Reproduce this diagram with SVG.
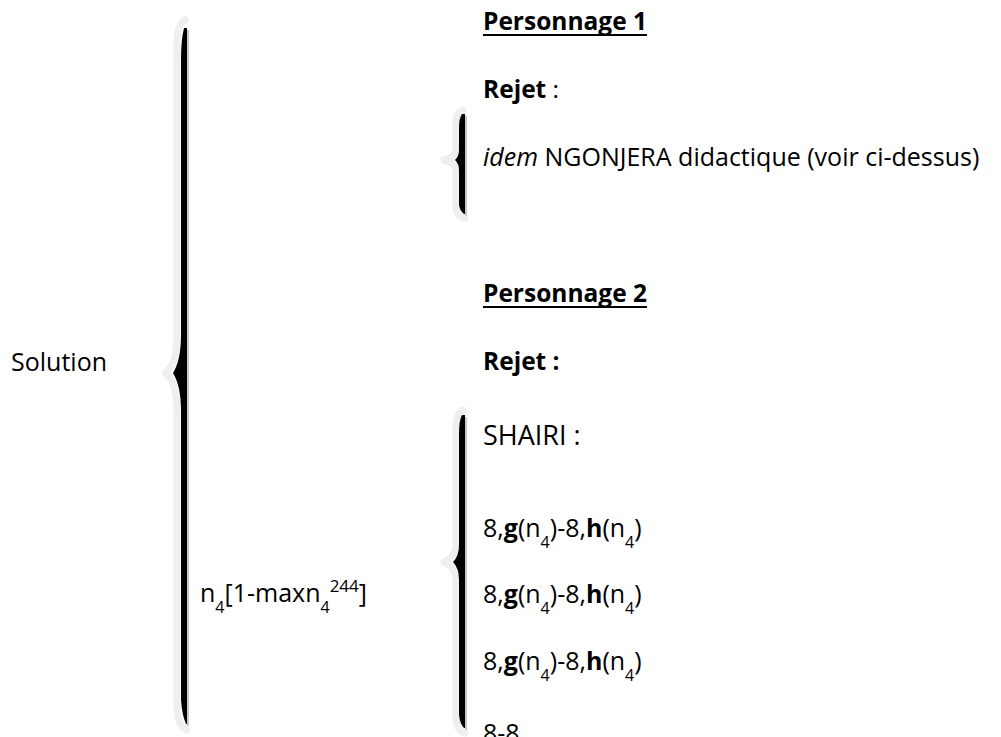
<svg xmlns="http://www.w3.org/2000/svg" width="1001" height="737" viewBox="0 0 1001 737">
<style>
text{font-family:"Open Sans","Liberation Sans",sans-serif;fill:#000}
.r{font-size:25px}
.b{font-size:24.5px;font-weight:bold}
.s{font-size:27px}
.halo{fill:none;stroke:#efefef;stroke-width:7;stroke-linecap:round;stroke-linejoin:round}
.blk{fill:#000}
.shd{stroke:#c8c8c8;stroke-width:2}
.ul{stroke:#000;stroke-width:2}
</style>
<rect width="1001" height="737" fill="#fff"/>
<g id="connectors">
<g id="brace-main">
<path class="halo" d="M185 20 Q177 24 177 45 L177 335 Q177 365 165 373 Q177 381 177 411 L177 705 Q177 726 187 730"/>
<path class="blk" d="M184 28 Q181 40 181 60 L181 335 Q181 360 173 373 Q181 386 181 411 L181 700 Q182 715 186 724 L187 724 L187 28 Z"/>
<line class="shd" x1="188" y1="30" x2="188" y2="726"/>
</g>
<g id="brace-p1">
<path class="halo" d="M463 110 Q456 112 456 125 L456 150 Q456 157 444 160 Q456 163 456 170 L456 205 Q456 216 465 218"/>
<path class="blk" d="M462 114 Q459 118 459 128 L459 150 Q459 156 455 160 Q459 164 459 170 L459 205 Q460 211 464 214 L465 214 L465 114 Z"/>
<line class="shd" x1="466" y1="116" x2="466" y2="216"/>
</g>
<g id="brace-p2">
<path class="halo" d="M463 410 Q456 413 456 430 L456 545 Q456 557 444 562 Q456 567 456 580 L456 715 Q456 730 465 733"/>
<path class="blk" d="M462 415 Q459 420 459 435 L459 545 Q459 556 453 562 Q459 568 459 580 L459 715 Q460 724 464 728 L465 728 L465 415 Z"/>
<line class="shd" x1="466" y1="417" x2="466" y2="730"/>
</g>
</g>
<g id="solution">
<text class="r" x="107" y="371" text-anchor="end">Solution</text>
</g>
<g id="n4">
<text class="r" x="200" y="602">n<tspan font-size="16" baseline-shift="sub">4</tspan>[1-maxn<tspan font-size="16" baseline-shift="sub">4</tspan><tspan font-size="17" dy="-10">244</tspan><tspan dy="10">]</tspan></text>
</g>
<g id="personnage1">
<text class="b" x="483" y="30">Personnage 1</text>
<line class="ul" x1="483" y1="35" x2="647" y2="35"/>
<text class="b" x="483" y="98">Rejet<tspan font-weight="normal"> :</tspan></text>
<text class="r" x="483" y="166"><tspan font-style="italic">idem</tspan> NGONJERA didactique (voir ci-dessus)</text>
</g>
<g id="personnage2">
<text class="b" x="483" y="302">Personnage 2</text>
<line class="ul" x1="483" y1="307" x2="647" y2="307"/>
<text class="b" x="483" y="370">Rejet :</text>
<text class="s" x="483" y="445">SHAIRI :</text>
<text class="r" x="483" y="537">8,<tspan font-weight="bold">g</tspan>(n<tspan font-size="16" baseline-shift="sub">4</tspan>)-8,<tspan font-weight="bold">h</tspan>(n<tspan font-size="16" baseline-shift="sub">4</tspan>)</text>
<text class="r" x="483" y="603">8,<tspan font-weight="bold">g</tspan>(n<tspan font-size="16" baseline-shift="sub">4</tspan>)-8,<tspan font-weight="bold">h</tspan>(n<tspan font-size="16" baseline-shift="sub">4</tspan>)</text>
<text class="r" x="483" y="670">8,<tspan font-weight="bold">g</tspan>(n<tspan font-size="16" baseline-shift="sub">4</tspan>)-8,<tspan font-weight="bold">h</tspan>(n<tspan font-size="16" baseline-shift="sub">4</tspan>)</text>
<text class="r" x="483" y="742">8-8</text>
</g>
</svg>
